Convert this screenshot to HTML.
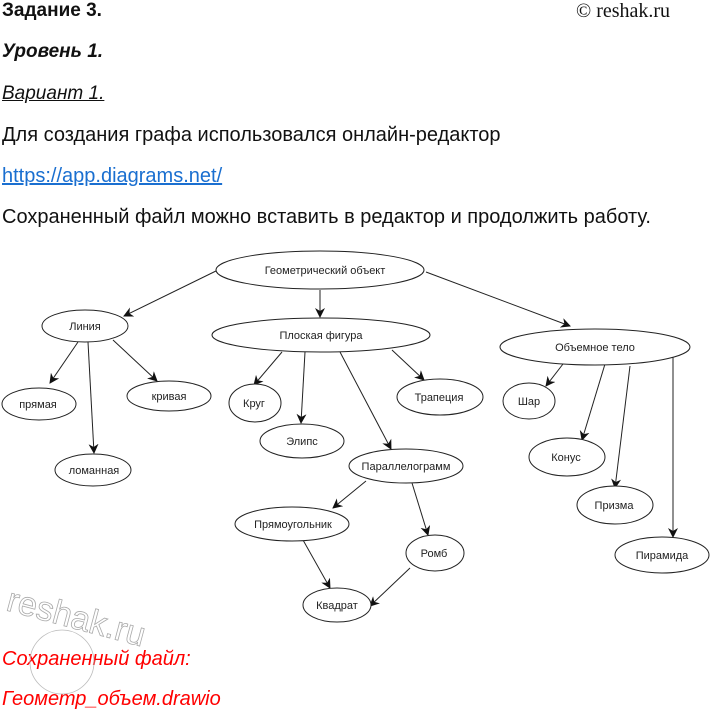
<!DOCTYPE html>
<html><head><meta charset="utf-8"><style>
body{margin:0;width:710px;height:713px;background:#fff;position:relative;overflow:hidden;font-family:"Liberation Sans","DejaVu Sans",sans-serif;}
.t{position:absolute;left:2px;font-size:20px;color:#111;white-space:nowrap;}
</style></head><body>
<div class="t" style="top:0px;font-weight:bold;font-size:19px">Задание 3.</div>
<div class="t" style="top:0px;left:576px;font-family:'Liberation Serif',serif;font-size:20px">© reshak.ru</div>
<div class="t" style="top:41px;font-weight:bold;font-style:italic;font-size:19px">Уровень 1.</div>
<div class="t" style="top:83px;font-style:italic;text-decoration:underline;font-size:19px">Вариант 1.</div>
<div class="t" style="top:124px">Для создания графа использовался онлайн-редактор</div>
<div class="t" style="top:165px;color:#1a6fd0;text-decoration:underline">https://app.diagrams.net/</div>
<div class="t" style="top:206px">Сохраненный файл можно вставить в редактор и продолжить работу.</div>
<div class="t" style="top:648px;color:#f00;font-style:italic">Сохраненный файл:</div>
<div class="t" style="top:688px;color:#f00;font-style:italic">Геометр_объем.drawio</div>
<svg width="710" height="713" style="position:absolute;left:0;top:0" font-family="Liberation Sans, sans-serif" font-size="11">
<defs><marker id="a" markerWidth="10" markerHeight="10" refX="9" refY="5" orient="auto" markerUnits="userSpaceOnUse"><path d="M0,0 L10,5 L0,10 L3,5 z" fill="#111"/></marker></defs>
<g stroke="#222" stroke-width="1" marker-end="url(#a)">
<line x1="218" y1="270" x2="124" y2="316"/>
<line x1="320" y1="290" x2="320" y2="317"/>
<line x1="426" y1="272" x2="570" y2="326"/>
<line x1="78" y1="342" x2="50" y2="383"/>
<line x1="88" y1="342" x2="94" y2="453"/>
<line x1="113" y1="340" x2="157" y2="381"/>
<line x1="282" y1="352" x2="254" y2="385"/>
<line x1="305" y1="352" x2="301" y2="423"/>
<line x1="392" y1="350" x2="424" y2="380"/>
<line x1="340" y1="352" x2="391" y2="449"/>
<line x1="366" y1="481" x2="333" y2="508"/>
<line x1="412" y1="483" x2="428" y2="535"/>
<line x1="303" y1="540" x2="330" y2="588"/>
<line x1="410" y1="568" x2="370" y2="606"/>
<line x1="563" y1="364" x2="546" y2="386"/>
<line x1="605" y1="364" x2="582" y2="440"/>
<line x1="630" y1="366" x2="615" y2="488"/>
<line x1="673" y1="357" x2="673" y2="537"/>
</g>
<g fill="#fff" stroke="#222" stroke-width="1">
<ellipse cx="320" cy="270" rx="104" ry="19"/>
<ellipse cx="85" cy="326" rx="43" ry="16"/>
<ellipse cx="321" cy="335" rx="109" ry="17"/>
<ellipse cx="595" cy="347" rx="95" ry="18"/>
<ellipse cx="39" cy="404" rx="37" ry="16"/>
<ellipse cx="169" cy="396" rx="42" ry="15"/>
<ellipse cx="93" cy="470" rx="38" ry="16"/>
<ellipse cx="255" cy="403" rx="26" ry="19"/>
<ellipse cx="302" cy="441" rx="42" ry="17"/>
<ellipse cx="440" cy="397" rx="43" ry="18"/>
<ellipse cx="406" cy="466" rx="57" ry="17"/>
<ellipse cx="292" cy="524" rx="57" ry="17"/>
<ellipse cx="435" cy="553" rx="29" ry="18"/>
<ellipse cx="337" cy="605" rx="34" ry="17"/>
<ellipse cx="529" cy="401" rx="26" ry="18"/>
<ellipse cx="567" cy="457" rx="38" ry="19"/>
<ellipse cx="615" cy="505" rx="38" ry="19"/>
<ellipse cx="662" cy="555" rx="47" ry="18"/>
</g>
<g fill="#222" text-anchor="middle">
<text x="325" y="274">Геометрический объект</text>
<text x="85" y="330">Линия</text>
<text x="321" y="339">Плоская фигура</text>
<text x="595" y="351">Объемное тело</text>
<text x="38" y="408">прямая</text>
<text x="169" y="400">кривая</text>
<text x="94" y="474">ломанная</text>
<text x="254" y="407">Круг</text>
<text x="302" y="445">Элипс</text>
<text x="439" y="401">Трапеция</text>
<text x="406" y="470">Параллелограмм</text>
<text x="293" y="528">Прямоугольник</text>
<text x="434" y="557">Ромб</text>
<text x="337" y="609">Квадрат</text>
<text x="529" y="405">Шар</text>
<text x="566" y="461">Конус</text>
<text x="614" y="509">Призма</text>
<text x="662" y="559">Пирамида</text>
</g>
<g fill="none" stroke="#bbb" stroke-width="0.8">
<text x="5" y="610" font-size="34" transform="rotate(15 5 610)" fill="none" stroke="#aaa">reshak.ru</text>
<circle cx="62" cy="662" r="32"/>
</g>
</svg>
</body></html>
